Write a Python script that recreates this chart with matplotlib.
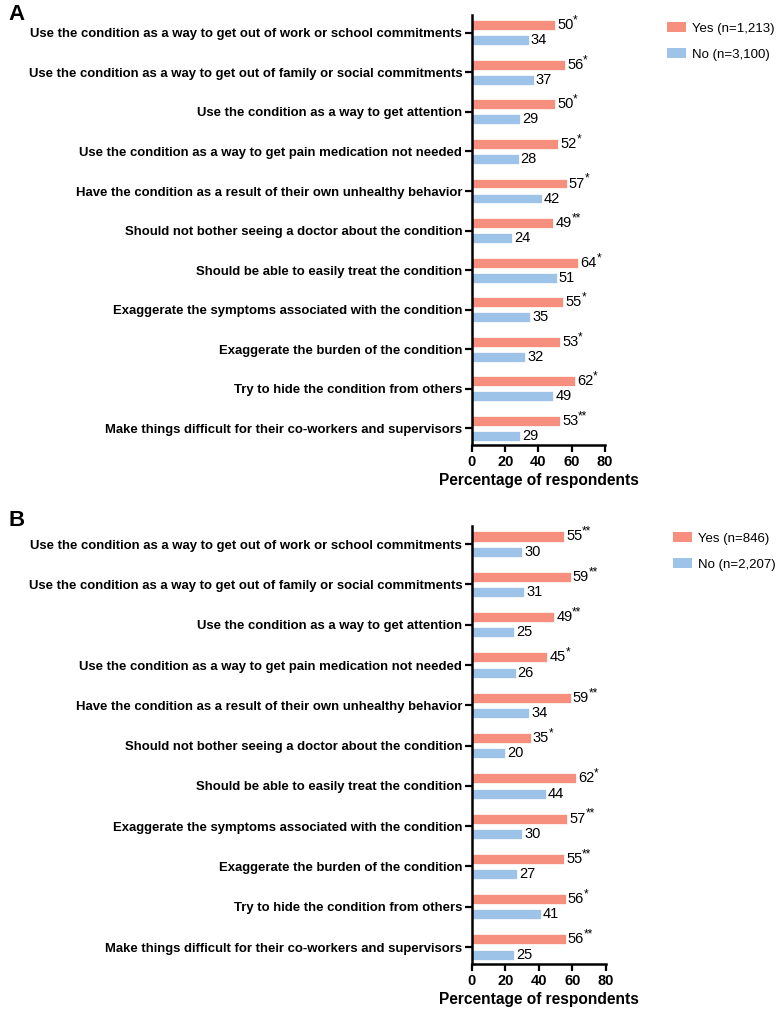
import matplotlib
matplotlib.use("Agg")
import matplotlib.pyplot as plt
from matplotlib.patches import Patch
import numpy as np

plt.rcParams['font.family'] = ['Liberation Sans', 'DejaVu Sans']

categories = [
    "Use the condition as a way to get out of work or school commitments",
    "Use the condition as a way to get out of family or social commitments",
    "Use the condition as a way to get attention",
    "Use the condition as a way to get pain medication not needed",
    "Have the condition as a result of their own unhealthy behavior",
    "Should not bother seeing a doctor about the condition",
    "Should be able to easily treat the condition",
    "Exaggerate the symptoms associated with the condition",
    "Exaggerate the burden of the condition",
    "Try to hide the condition from others",
    "Make things difficult for their co-workers and supervisors",
]

# panel A
yes_a = [50, 56, 50, 52, 57, 49, 64, 55, 53, 62, 53]
yes_a_sig = ["*", "*", "*", "*", "*", "**", "*", "*", "*", "*", "**"]
no_a = [34, 37, 29, 28, 42, 24, 51, 35, 32, 49, 29]
legend_a = ["Yes (n=1,213)", "No (n=3,100)"]

# panel B
yes_b = [55, 59, 49, 45, 59, 35, 62, 57, 55, 56, 56]
yes_b_sig = ["**", "**", "**", "*", "**", "*", "*", "**", "**", "*", "**"]
no_b = [30, 31, 25, 26, 34, 20, 44, 30, 27, 41, 25]
legend_b = ["Yes (n=846)", "No (n=2,207)"]

c_yes = "#F68F7E"
c_no = "#9DC3E8"

W, H = 780, 1015
fig = plt.figure(figsize=(W / 100, H / 100), dpi=100)


def panel(rect_px, yes, sig, no, leg, letter, letter_y, leg_pos):
    left, top, right, bottom = rect_px
    ax = fig.add_axes([left / W, 1 - bottom / H, (right - left) / W, (bottom - top) / H])
    y = np.arange(len(categories))
    off = 0.19
    h = 0.25
    ax.barh(y - off, yes, height=h, color=c_yes, edgecolor="white", linewidth=0.5)
    ax.barh(y + off, no, height=h, color=c_no, edgecolor="white", linewidth=0.5)
    for yi, v, s in zip(y, yes, sig):
        t = ax.annotate(str(v), xy=(v, yi - off), xytext=(1.5, 0), textcoords="offset points",
                        ha="left", va="center", fontsize=10.5)
        ax.annotate(s, xy=(1, 0.4), xycoords=t, xytext=(-0.3, 0), textcoords="offset points",
                    ha="left", va="bottom", fontsize=8.5)
    for yi, v in zip(y, no):
        ax.annotate(str(v), xy=(v, yi + off), xytext=(1.5, 0), textcoords="offset points",
                    ha="left", va="center", fontsize=10.5)
    ax.set_xlim(0, 80)
    ax.set_ylim(len(categories) - 1 + 0.42, -0.45)
    ax.set_xticks([0, 20, 40, 60, 80])
    ax.set_yticks(y)
    ax.set_yticklabels(categories, fontweight="bold", fontsize=9.45)
    for lab in ax.get_xticklabels():
        lab.set_fontweight("bold")
        lab.set_fontsize(10.5)
    ax.tick_params(axis="both", width=1.6, length=5, pad=2)
    ax.spines["top"].set_visible(False)
    ax.spines["right"].set_visible(False)
    ax.spines["left"].set_linewidth(1.8)
    ax.spines["bottom"].set_linewidth(1.8)
    ax.set_xlabel("Percentage of respondents", fontweight="bold", fontsize=11.2, labelpad=3)
    fig.text(8 / W, 1 - letter_y / H, letter, fontsize=16, fontweight="bold", va="center", ha="left")
    handles = [Patch(facecolor=c_yes, edgecolor="none"), Patch(facecolor=c_no, edgecolor="none")]
    fig.legend(handles, leg, loc="upper left", bbox_to_anchor=(leg_pos[0] / W, 1 - leg_pos[1] / H),
               frameon=False, fontsize=9.5, handlelength=1.4, handleheight=0.8,
               handletextpad=0.5, labelspacing=1.0, borderaxespad=0)
    return ax


panel((472, 15, 605, 445), yes_a, yes_a_sig, no_a, legend_a, "A", 15, (662, 17))
panel((472, 526, 606, 964), yes_b, yes_b_sig, no_b, legend_b, "B", 521, (668, 527))

fig.savefig("out.png", dpi=100)
